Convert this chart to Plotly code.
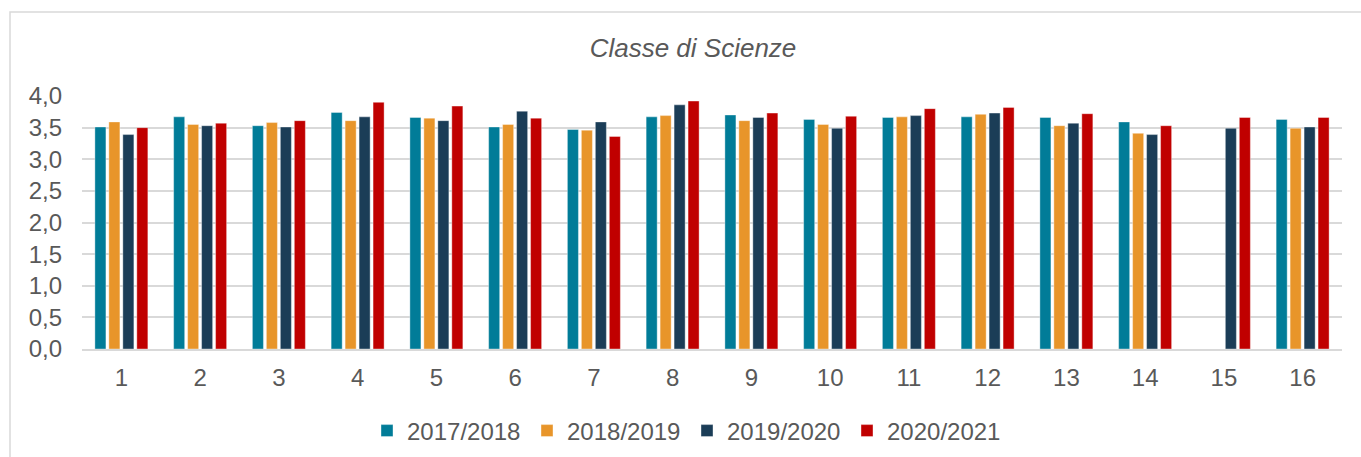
import plotly.graph_objects as go

categories = [str(i) for i in range(1, 17)]
s2017 = [3.51, 3.67, 3.53, 3.74, 3.66, 3.51, 3.47, 3.67, 3.70, 3.63, 3.66, 3.67, 3.66, 3.59, None, 3.63]
s2018 = [3.59, 3.55, 3.58, 3.61, 3.65, 3.55, 3.46, 3.69, 3.61, 3.55, 3.67, 3.71, 3.53, 3.41, None, 3.49]
s2019 = [3.39, 3.53, 3.51, 3.67, 3.61, 3.76, 3.59, 3.86, 3.66, 3.49, 3.69, 3.73, 3.57, 3.39, 3.49, 3.51]
s2020 = [3.50, 3.57, 3.61, 3.90, 3.84, 3.65, 3.36, 3.92, 3.73, 3.68, 3.80, 3.82, 3.72, 3.53, 3.66, 3.66]
series_names = ["2017/2018", "2018/2019", "2019/2020", "2020/2021"]
series_colors = ["#017C98", "#E8952A", "#1B3D57", "#C00000"]
y_ticks = [0, 0.5, 1.0, 1.5, 2.0, 2.5, 3.0, 3.5, 4.0]
y_tick_labels = ["0,0", "0,5", "1,0", "1,5", "2,0", "2,5", "3,0", "3,5", "4,0"]

fig = go.Figure()
for name, vals, col in zip(series_names, [s2017, s2018, s2019, s2020], series_colors):
    fig.add_trace(go.Bar(
        x=categories, y=vals, name=name,
        marker=dict(color=col, line=dict(color="rgba(255,255,255,0.5)", width=0.75)),
    ))

W, H = 1361, 457
L, R, T, B = 82, 19, 96, 108
pw, ph = W - L - R, H - T - B

def px(x):
    return (x - L) / pw

def py(y):
    return (H - B - y) / ph

fig.update_layout(
    width=W, height=H,
    margin=dict(l=L, r=R, t=T, b=B, autoexpand=False),
    paper_bgcolor="white", plot_bgcolor="white",
    barmode="group", bargap=0.29, bargroupgap=0.21,
    font=dict(family="Liberation Sans, Arial, sans-serif", size=24, color="#595959"),
    title=dict(text="<i>Classe di Scienze</i>", x=693 / W, xref="container", xanchor="center",
               y=1 - 48 / H, yref="container", yanchor="middle",
               font=dict(size=26, color="#595959")),
    legend=dict(orientation="h", x=px(367), xanchor="left", xref="paper",
                y=1 - 431 / H, yref="container", yanchor="middle",
                font=dict(size=24, color="#595959"),
                entrywidth=115, entrywidthmode="pixels", traceorder="normal"),
    xaxis=dict(showgrid=False, showline=True, linecolor="#d9d9d9", linewidth=1.5,
               ticks="", ticklabelstandoff=6, tickfont=dict(size=24)),
    yaxis=dict(range=[0, 4], tickvals=y_ticks, ticktext=y_tick_labels,
               showgrid=True, gridcolor="#d9d9d9", gridwidth=1.5, zeroline=False,
               showline=False, ticks="", ticklabelstandoff=19, tickfont=dict(size=24)),
    shapes=[dict(type="rect", xref="paper", yref="paper",
                 x0=px(10), x1=px(1370), y0=py(470), y1=py(12),
                 line=dict(color="#d9d9d9", width=1.5), fillcolor="rgba(0,0,0,0)", layer="below")],
)

fig.write_html("out.html", config={"displayModeBar": False},
               post_script="document.body.style.margin='0';document.body.style.overflow='hidden';")
